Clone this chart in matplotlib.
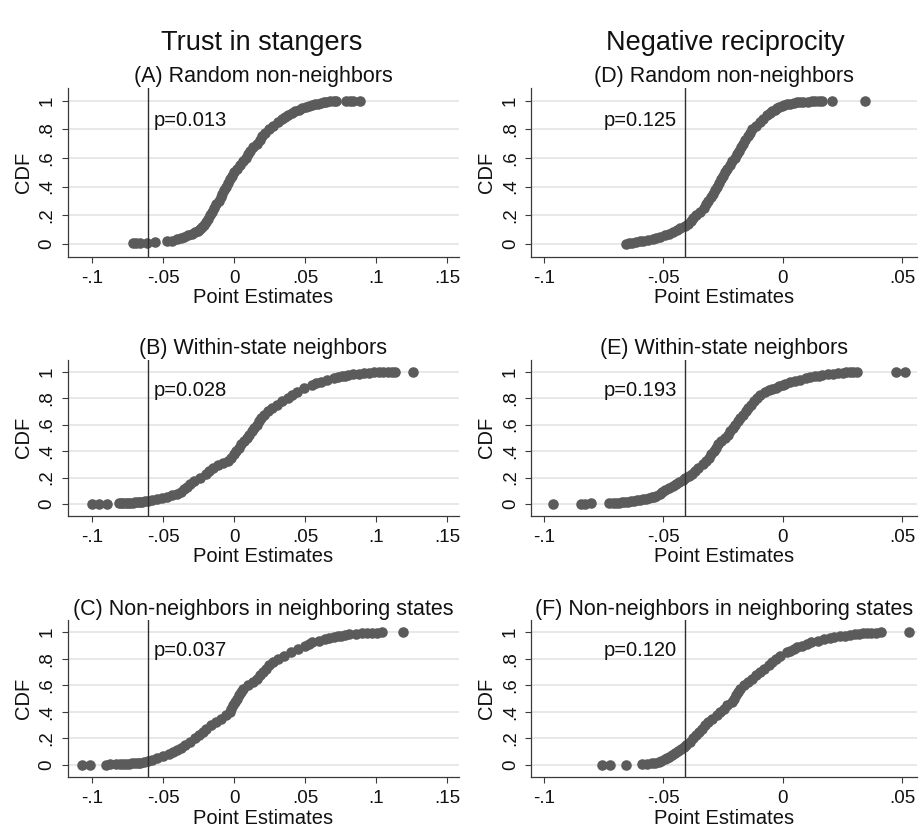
import matplotlib
matplotlib.use("Agg")
import matplotlib.pyplot as plt

plt.rcParams['font.family'] = ['Liberation Sans', 'DejaVu Sans']

# ---------------- data ----------------
column_titles = ["Trust in stangers", "Negative reciprocity"]
panel_titles = ["(A) Random non-neighbors", "(B) Within-state neighbors",
                "(C) Non-neighbors in neighboring states",
                "(D) Random non-neighbors", "(E) Within-state neighbors",
                "(F) Non-neighbors in neighboring states"]
p_labels = ["p=0.013", "p=0.028", "p=0.037", "p=0.125", "p=0.193", "p=0.120"]
actual_estimates = [-0.061, -0.061, -0.061, -0.041, -0.041, -0.041]

left_xticks = [-0.1, -0.05, 0, 0.05, 0.1, 0.15]
left_xticklabels = ["-.1", "-.05", "0", ".05", ".1", ".15"]
right_xticks = [-0.1, -0.05, 0, 0.05]
right_xticklabels = ["-.1", "-.05", "0", ".05"]
yticks = [0, 0.2, 0.4, 0.6, 0.8, 1.0]
yticklabels = ["0", ".2", ".4", ".6", ".8", "1"]

# Panel A: placebo point estimates and their CDF
a_x = [-0.0712, -0.0690, -0.0665, -0.0613, -0.0554, -0.0472, -0.0440, -0.0405, -0.0377,
       -0.0350, -0.0325, -0.0300, -0.0275, -0.0255, -0.0240, -0.0225, -0.0215, -0.0200,
       -0.0185, -0.0172, -0.0155, -0.0140, -0.0125, -0.0108, -0.0094, -0.0082, -0.0068,
       -0.0058, -0.0045, -0.0030, -0.0015, -0.0002, 0.0020, 0.0040, 0.0060, 0.0083,
       0.0100, 0.0115, 0.0135, 0.0160, 0.0180, 0.0198, 0.0215, 0.0248, 0.0275, 0.0310,
       0.0340, 0.0355, 0.0380, 0.0405, 0.0430, 0.0455, 0.0480, 0.0505, 0.0530, 0.0550,
       0.0570, 0.0590, 0.0610, 0.0630, 0.0650, 0.0675, 0.0700, 0.0720, 0.0790, 0.0815,
       0.0840, 0.0885]
a_y = [0.002, 0.004, 0.006, 0.008, 0.013, 0.016, 0.022, 0.030, 0.040, 0.050, 0.060,
       0.070, 0.080, 0.090, 0.100, 0.115, 0.130, 0.150, 0.175, 0.200, 0.225, 0.250,
       0.275, 0.300, 0.325, 0.350, 0.375, 0.400, 0.425, 0.450, 0.475, 0.500, 0.525,
       0.550, 0.575, 0.600, 0.625, 0.650, 0.675, 0.700, 0.725, 0.750, 0.775, 0.800,
       0.825, 0.850, 0.875, 0.888, 0.900, 0.912, 0.925, 0.938, 0.950, 0.958, 0.965,
       0.970, 0.975, 0.980, 0.985, 0.989, 0.992, 0.995, 0.997, 0.998, 0.999, 0.999,
       1.000, 1.000]

# Panel B
b_x = [-0.0998, -0.0951, -0.0897, -0.0810, -0.0795, -0.0780, -0.0765, -0.0750, -0.0730,
       -0.0715, -0.0695, -0.0680, -0.0665, -0.0650, -0.0630, -0.0610, -0.0575, -0.0540,
       -0.0505, -0.0470, -0.0435, -0.0400, -0.0375, -0.0355, -0.0335, -0.0310, -0.0280,
       -0.0240, -0.0200, -0.0180, -0.0150, -0.0117, -0.0075, -0.0040, -0.0020, 0.0000,
       0.0015, 0.0035, 0.0050, 0.0070, 0.0090, 0.0105, 0.0125, 0.0142, 0.0160, 0.0175,
       0.0190, 0.0210, 0.0240, 0.0270, 0.0305, 0.0340, 0.0376, 0.0410, 0.0446, 0.0490,
       0.0545, 0.0575, 0.0610, 0.0655, 0.0700, 0.0730, 0.0760, 0.0780, 0.0800, 0.0840,
       0.0880, 0.0915, 0.0950, 0.0985, 0.1020, 0.1050, 0.1080, 0.1110, 0.1130, 0.1263]
b_y = [0.001, 0.002, 0.003, 0.004, 0.005, 0.006, 0.007, 0.008, 0.010, 0.011, 0.013,
       0.014, 0.016, 0.018, 0.021, 0.025, 0.030, 0.035, 0.045, 0.055, 0.065, 0.075,
       0.090, 0.110, 0.130, 0.150, 0.175, 0.200, 0.225, 0.250, 0.275, 0.295, 0.310,
       0.325, 0.350, 0.375, 0.400, 0.425, 0.450, 0.475, 0.500, 0.525, 0.550, 0.575,
       0.600, 0.625, 0.650, 0.675, 0.700, 0.725, 0.750, 0.775, 0.800, 0.825, 0.850,
       0.875, 0.900, 0.912, 0.925, 0.938, 0.950, 0.958, 0.965, 0.970, 0.975, 0.980,
       0.985, 0.989, 0.992, 0.994, 0.996, 0.997, 0.998, 0.999, 1.000, 1.000]

# Panel C
c_x = [-0.1071, -0.1015, -0.0901, -0.0871, -0.0832, -0.0805, -0.0785, -0.0762, -0.0740,
       -0.0720, -0.0700, -0.0680, -0.0665, -0.0635, -0.0610, -0.0580, -0.0545, -0.0500,
       -0.0460, -0.0430, -0.0405, -0.0375, -0.0345, -0.0310, -0.0275, -0.0250, -0.0220,
       -0.0195, -0.0160, -0.0125, -0.0090, -0.0055, -0.0030, -0.0019, -0.0008, 0.0005,
       0.0020, 0.0032, 0.0045, 0.0065, 0.0095, 0.0130, 0.0160, 0.0185, 0.0205, 0.0225,
       0.0248, 0.0275, 0.0310, 0.0350, 0.0400, 0.0450, 0.0500, 0.0525, 0.0550, 0.0595,
       0.0640, 0.0670, 0.0705, 0.0730, 0.0750, 0.0780, 0.0810, 0.0855, 0.0900, 0.0935,
       0.0970, 0.1005, 0.1040, 0.1190]
c_y = [0.001, 0.002, 0.003, 0.004, 0.005, 0.006, 0.007, 0.009, 0.010, 0.012, 0.013,
       0.015, 0.017, 0.022, 0.030, 0.040, 0.050, 0.065, 0.080, 0.095, 0.110, 0.130,
       0.150, 0.175, 0.200, 0.225, 0.250, 0.275, 0.300, 0.325, 0.350, 0.375, 0.400,
       0.425, 0.450, 0.475, 0.500, 0.525, 0.550, 0.575, 0.600, 0.625, 0.650, 0.675,
       0.700, 0.725, 0.750, 0.775, 0.800, 0.825, 0.850, 0.875, 0.900, 0.912, 0.925,
       0.938, 0.950, 0.958, 0.965, 0.970, 0.975, 0.980, 0.985, 0.989, 0.992, 0.994,
       0.996, 0.998, 1.000, 1.000]

# Panel D
d_x = [-0.0657, -0.0645, -0.0630, -0.0615, -0.0600, -0.0585, -0.0565, -0.0545, -0.0530,
       -0.0515, -0.0495, -0.0475, -0.0460, -0.0445, -0.0430, -0.0410, -0.0398, -0.0385,
       -0.0375, -0.0365, -0.0345, -0.0330, -0.0320, -0.0312, -0.0302, -0.0293, -0.0285,
       -0.0275, -0.0267, -0.0258, -0.0252, -0.0242, -0.0232, -0.0222, -0.0212, -0.0202,
       -0.0192, -0.0183, -0.0175, -0.0167, -0.0157, -0.0148, -0.0138, -0.0128, -0.0112,
       -0.0098, -0.0082, -0.0065, -0.0055, -0.0045, -0.0035, -0.0025, -0.0015, -0.0005,
       0.0005, 0.0015, 0.0030, 0.0045, 0.0060, 0.0072, 0.0085, 0.0105, 0.0120, 0.0135,
       0.0150, 0.0165, 0.0205, 0.0343]
d_y = [0.001, 0.004, 0.008, 0.012, 0.016, 0.022, 0.028, 0.035, 0.042, 0.050, 0.060,
       0.070, 0.080, 0.095, 0.110, 0.125, 0.140, 0.160, 0.180, 0.200, 0.225, 0.250,
       0.275, 0.300, 0.325, 0.350, 0.375, 0.400, 0.425, 0.450, 0.475, 0.500, 0.525,
       0.550, 0.575, 0.600, 0.625, 0.650, 0.675, 0.700, 0.725, 0.750, 0.775, 0.800,
       0.825, 0.850, 0.875, 0.900, 0.912, 0.925, 0.938, 0.950, 0.958, 0.965, 0.970,
       0.975, 0.980, 0.985, 0.988, 0.990, 0.992, 0.994, 0.996, 0.997, 0.998, 0.999,
       1.000, 1.000]

# Panel E
e_x = [-0.0963, -0.0844, -0.0830, -0.0805, -0.0726, -0.0713, -0.0700, -0.0688, -0.0675,
       -0.0662, -0.0650, -0.0637, -0.0625, -0.0612, -0.0600, -0.0587, -0.0575, -0.0562,
       -0.0550, -0.0540, -0.0530, -0.0515, -0.0505, -0.0492, -0.0478, -0.0462, -0.0448,
       -0.0435, -0.0420, -0.0409, -0.0395, -0.0380, -0.0368, -0.0355, -0.0335, -0.0322,
       -0.0310, -0.0300, -0.0290, -0.0282, -0.0272, -0.0258, -0.0242, -0.0230, -0.0220,
       -0.0210, -0.0200, -0.0190, -0.0178, -0.0167, -0.0156, -0.0145, -0.0133, -0.0120,
       -0.0108, -0.0095, -0.0075, -0.0060, -0.0045, -0.0030, -0.0015, 0.0000, 0.0010,
       0.0030, 0.0050, 0.0070, 0.0095, 0.0115, 0.0135, 0.0150, 0.0165, 0.0190, 0.0210,
       0.0230, 0.0250, 0.0265, 0.0280, 0.0295, 0.0310, 0.0475, 0.0510]
e_y = [0.001, 0.002, 0.003, 0.004, 0.006, 0.0075, 0.009, 0.011, 0.013, 0.0155, 0.018,
       0.0215, 0.025, 0.0285, 0.032, 0.036, 0.040, 0.045, 0.050, 0.055, 0.060, 0.075,
       0.090, 0.105, 0.120, 0.135, 0.150, 0.165, 0.180, 0.193, 0.210, 0.230, 0.250,
       0.275, 0.300, 0.325, 0.350, 0.375, 0.400, 0.425, 0.450, 0.475, 0.500, 0.525,
       0.550, 0.575, 0.600, 0.625, 0.650, 0.675, 0.700, 0.725, 0.750, 0.775, 0.800,
       0.825, 0.850, 0.860, 0.870, 0.880, 0.890, 0.900, 0.910, 0.920, 0.930, 0.940,
       0.950, 0.958, 0.965, 0.970, 0.975, 0.980, 0.985, 0.989, 0.992, 0.994, 0.996,
       0.998, 1.000, 1.000, 1.000]

# Panel F
f_x = [-0.0757, -0.0725, -0.0656, -0.0590, -0.0570, -0.0550, -0.0535, -0.0520, -0.0510,
       -0.0495, -0.0485, -0.0475, -0.0465, -0.0452, -0.0440, -0.0425, -0.0415, -0.0405,
       -0.0390, -0.0375, -0.0362, -0.0350, -0.0338, -0.0325, -0.0312, -0.0295, -0.0278,
       -0.0262, -0.0245, -0.0232, -0.0215, -0.0205, -0.0198, -0.0190, -0.0180, -0.0163,
       -0.0148, -0.0130, -0.0112, -0.0095, -0.0078, -0.0060, -0.0045, -0.0030, -0.0012,
       0.0015, 0.0030, 0.0045, 0.0060, 0.0080, 0.0100, 0.0118, 0.0145, 0.0170, 0.0195,
       0.0215, 0.0240, 0.0260, 0.0280, 0.0300, 0.0320, 0.0335, 0.0350, 0.0370, 0.0390,
       0.0410, 0.0528]
f_y = [0.001, 0.002, 0.003, 0.005, 0.008, 0.012, 0.018, 0.025, 0.033, 0.042, 0.050,
       0.062, 0.075, 0.090, 0.105, 0.120, 0.135, 0.150, 0.175, 0.200, 0.225, 0.250,
       0.275, 0.300, 0.325, 0.350, 0.375, 0.400, 0.425, 0.450, 0.475, 0.500, 0.525,
       0.550, 0.575, 0.600, 0.625, 0.650, 0.675, 0.700, 0.725, 0.750, 0.775, 0.800,
       0.825, 0.850, 0.862, 0.875, 0.888, 0.900, 0.912, 0.925, 0.938, 0.950, 0.958,
       0.965, 0.970, 0.975, 0.980, 0.985, 0.989, 0.992, 0.994, 0.996, 0.998, 1.000,
       1.000]

panel_x = [a_x, b_x, c_x, d_x, e_x, f_x]
panel_y = [a_y, b_y, c_y, d_y, e_y, f_y]

# ---------------- layout ----------------
W, H = 924, 832
fig = plt.figure(figsize=(W / 100, H / 100), dpi=100)

YLIM = (-0.09, 1.09)
# pixel positions of y=1 and y=0 for each row
row_y1 = [100.7, 371.7, 632.3]
row_y0 = [243.7, 504.0, 765.0]
# column: pixel x of left edge, right edge, and x-limits
col_px = [(68.0, 458.5), (531.3, 917.0)]
col_xlim = [(-0.117, 0.158), (-0.1053, 0.0561)]

marker_color = "#5b5b5b"
line_color = "#2f2f2f"
grid_color = "#e6e6e6"
spine_color = "#3a3a3a"
text_color = "#111111"

for idx in range(6):
    col = idx // 3
    row = idx % 3
    ppu = row_y0[row] - row_y1[row]
    top_px = row_y1[row] - (YLIM[1] - 1) * ppu
    bot_px = row_y0[row] - YLIM[0] * ppu
    l_px, r_px = col_px[col]
    ax = fig.add_axes([l_px / W, 1 - bot_px / H, (r_px - l_px) / W, (bot_px - top_px) / H])

    ax.set_xlim(*col_xlim[col])
    ax.set_ylim(*YLIM)

    for gy in yticks:
        ax.axhline(gy, color=grid_color, lw=1.3, zorder=0)

    ax.plot(panel_x[idx], panel_y[idx], "o", ms=7.6, color=marker_color,
            mec="none", zorder=2, clip_on=False)
    ax.axvline(actual_estimates[idx], color=line_color, lw=1.0, zorder=3)

    if col == 0:
        ax.annotate(p_labels[idx], xy=(actual_estimates[idx], 0.86),
                    xytext=(4.3, 0), textcoords="offset points",
                    ha="left", va="center", fontsize=14.5, color=text_color)
        ax.set_xticks(left_xticks)
        ax.set_xticklabels(left_xticklabels)
    else:
        ax.annotate(p_labels[idx], xy=(actual_estimates[idx], 0.86),
                    xytext=(-5.8, 0), textcoords="offset points",
                    ha="right", va="center", fontsize=14.5, color=text_color)
        ax.set_xticks(right_xticks)
        ax.set_xticklabels(right_xticklabels)

    ax.set_yticks(yticks)
    ax.set_yticklabels(yticklabels, rotation=90, va="center")

    for s in ["top", "right"]:
        ax.spines[s].set_visible(False)
    for s in ["left", "bottom"]:
        ax.spines[s].set_color(spine_color)
        ax.spines[s].set_linewidth(0.9)

    ax.tick_params(axis="both", direction="out", length=4, width=0.8,
                   color=spine_color, labelsize=13.5, labelcolor=text_color)
    ax.tick_params(axis="x", pad=5.5)
    ax.tick_params(axis="y", pad=5)

    ax.set_xlabel("Point Estimates", fontsize=14.5, color=text_color, labelpad=1)
    ax.set_ylabel("CDF", fontsize=14.5, color=text_color, labelpad=4)
    ax.set_title(panel_titles[idx], fontsize=15.5, color=text_color, pad=4)

fig.text(262 / W, 1 - 43 / H, column_titles[0], ha="center", va="center",
         fontsize=19.5, color=text_color)
fig.text(725 / W, 1 - 43 / H, column_titles[1], ha="center", va="center",
         fontsize=19.5, color=text_color)

fig.savefig("out.png", dpi=100, facecolor="white")
